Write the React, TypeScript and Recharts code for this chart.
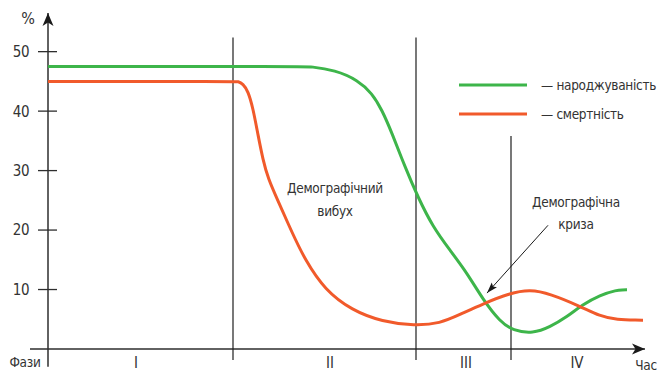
import React from 'react';
import {
  ComposedChart,
  Line,
  XAxis,
  YAxis,
  ReferenceLine,
  ReferenceDot,
  Legend,
} from 'recharts';

const FONT = "'Liberation Sans Narrow', 'DejaVu Sans Condensed', 'Roboto Condensed', sans-serif";
const TEXT = '#333333';
const AXIS = '#2e2e2e';
const GREEN = '#3db54a';
const RED = '#f15a2b';

// time units (arbitrary), rate in %
const birthTime = [0, 255, 262, 287, 310, 324, 334, 344, 357, 370, 385, 402, 419, 435, 452, 465, 485, 502, 519, 534, 552, 569, 574, 579];
const birthRate = [47.5, 47.5, 47.5, 46.9, 45.2, 43.0, 40.2, 36.3, 30.6, 25.5, 20.5, 16.6, 12.8, 8.3, 4.6, 3.1, 2.6, 3.7, 5.4, 7.4, 9.1, 9.9, 9.95, 9.95];

const deathTime = [0, 186, 190, 195, 200, 205, 210, 215, 220, 230, 244, 257, 277, 304, 334, 367, 392, 412, 435, 462, 482, 502, 532, 552, 569, 590, 595];
const deathRate = [45, 45, 45, 44.6, 43.4, 40.5, 36.0, 31.8, 28.7, 24.9, 19.6, 15.0, 9.9, 6.5, 4.6, 3.9, 4.3, 5.8, 7.6, 9.4, 10.0, 9.3, 7.2, 5.5, 4.9, 4.85, 4.85];

const seriesNames = ['— народжуваність', '— смертність'];

const phaseBounds = [185, 368, 463];
const phaseTops = [52.4, 52.4, 35.8];
const phaseCenters = [88, 282, 418, 529];
const phaseLabels = ['I', 'II', 'III', 'IV'];

const yTicks = [10, 20, 30, 40, 50];

const X_MIN = 0;
const X_MAX = 597;
const Y_MAX = 56.5;

const birthData = birthTime.map((t, i) => ({ t, v: birthRate[i] }));
const deathData = deathTime.map((t, i) => ({ t, v: deathRate[i] }));

const YTick = (props: any) => {
  const { x, y, payload } = props;
  return (
    <g>
      <line x1={x - 10} x2={x + 9} y1={y} y2={y} stroke={AXIS} strokeWidth={1.3} />
      <text
        x={x - 19}
        y={y}
        dy="0.36em"
        textAnchor="end"
        fill={TEXT}
        fontFamily={FONT}
        fontSize={15}
        letterSpacing={-0.5}
      >
        {payload.value}
      </text>
    </g>
  );
};

const XTick = (props: any) => {
  const { x, y, payload } = props;
  const idx = phaseCenters.indexOf(payload.value);
  return (
    <text x={x} y={y + 19} textAnchor="middle" fill={TEXT} fontFamily={FONT} fontSize={15}>
      {phaseLabels[idx]}
    </text>
  );
};

const LegendContent = (props: any) => {
  const payload = props.payload || [];
  return (
    <svg width={214} height={56} style={{ overflow: 'visible' }}>
      {payload.map((item: any, i: number) => (
        <g key={i}>
          <line x1={4} x2={72} y1={13 + i * 29} y2={13 + i * 29} stroke={item.color} strokeWidth={3} />
          <text
            x={86}
            y={13 + i * 29}
            dy="0.36em"
            fill={TEXT}
            fontFamily={FONT}
            fontSize={13.5}
            letterSpacing={-0.3}
          >
            {item.value}
          </text>
        </g>
      ))}
    </svg>
  );
};

const textLabel = (value: string, size = 13.5) => ({
  value,
  position: 'center' as const,
  fill: TEXT,
  fontFamily: FONT,
  fontSize: size,
  letterSpacing: -0.3,
});

export default function App() {
  return (
    <div style={{ position: 'absolute', left: 0, top: 0, width: 669, height: 372, background: '#fff' }}>
      <ComposedChart
        width={669}
        height={372}
        margin={{ top: 13, right: 24, bottom: 0, left: 0 }}
      >
        <defs>
          <marker
            id="axisArrow"
            markerUnits="userSpaceOnUse"
            markerWidth={14}
            markerHeight={12}
            refX={13}
            refY={6}
            orient="auto"
          >
            <path d="M0,0.5 L13,6 L0,11.5 L3.5,6 Z" fill="#1a1a1a" />
          </marker>
          <marker
            id="noteArrow"
            markerUnits="userSpaceOnUse"
            markerWidth={12}
            markerHeight={8}
            refX={11}
            refY={4}
            orient="auto"
          >
            <path d="M0,0.5 L11,4 L0,7.5 L2,4 Z" fill="#1a1a1a" />
          </marker>
        </defs>
        <XAxis
          type="number"
          dataKey="t"
          domain={[X_MIN, X_MAX]}
          allowDataOverflow
          ticks={phaseCenters}
          interval={0}
          axisLine={false}
          tickLine={false}
          tickSize={0}
          tickMargin={0}
          height={23}
          tick={<XTick />}
        />
        <YAxis
          type="number"
          domain={[0, Y_MAX]}
          allowDataOverflow
          ticks={yTicks}
          interval={0}
          axisLine={false}
          tickLine={false}
          tickSize={0}
          tickMargin={0}
          width={48}
          tick={<YTick />}
        />
        <Legend
          layout="vertical"
          align="center"
          verticalAlign="middle"
          content={<LegendContent />}
          wrapperStyle={{ position: 'absolute', left: 455, top: 72, width: 214, height: 56 }}
        />

        {/* axes with arrows */}
        <ReferenceLine
          segment={[{ x: -18, y: 0 }, { x: X_MAX, y: 0 }]}
          stroke={AXIS}
          strokeWidth={1.5}
          ifOverflow="visible"
          markerEnd="url(#axisArrow)"
        />
        <ReferenceLine
          segment={[{ x: 0, y: -3 }, { x: 0, y: Y_MAX }]}
          stroke={AXIS}
          strokeWidth={1.5}
          ifOverflow="visible"
          markerEnd="url(#axisArrow)"
        />

        {/* phase boundaries */}
        {phaseBounds.map((b, i) => (
          <ReferenceLine
            key={'pb' + i}
            segment={[{ x: b, y: -1.85 }, { x: b, y: phaseTops[i] }]}
            stroke="#1f1f1f"
            strokeWidth={1.2}
            ifOverflow="visible"
          />
        ))}

        <Line
          data={birthData}
          dataKey="v"
          name={seriesNames[0]}
          type="basis"
          stroke={GREEN}
          strokeWidth={3}
          dot={false}
          activeDot={false}
          isAnimationActive={false}
        />
        <Line
          data={deathData}
          dataKey="v"
          name={seriesNames[1]}
          type="basis"
          stroke={RED}
          strokeWidth={3}
          dot={false}
          activeDot={false}
          isAnimationActive={false}
        />

        {/* annotation arrow */}
        <ReferenceLine
          segment={[{ x: 500, y: 20.8 }, { x: 439, y: 9.4 }]}
          stroke="#1a1a1a"
          strokeWidth={1}
          ifOverflow="visible"
          markerEnd="url(#noteArrow)"
        />

        {/* texts */}
        <ReferenceDot x={287} y={27.0} r={0} ifOverflow="visible" label={textLabel('Демографічний')} />
        <ReferenceDot x={287} y={23.2} r={0} ifOverflow="visible" label={textLabel('вибух')} />
        <ReferenceDot x={528} y={24.7} r={0} ifOverflow="visible" label={textLabel('Демографічна')} />
        <ReferenceDot x={528} y={21.0} r={0} ifOverflow="visible" label={textLabel('криза')} />
        <ReferenceDot x={-20} y={55.6} r={0} ifOverflow="visible" label={textLabel('%', 16)} />
        <ReferenceDot x={-23} y={-2.2} r={0} ifOverflow="visible" label={textLabel('Фази')} />
        <ReferenceDot x={598} y={-2.7} r={0} ifOverflow="visible" label={textLabel('Час')} />
      </ComposedChart>
    </div>
  );
}
